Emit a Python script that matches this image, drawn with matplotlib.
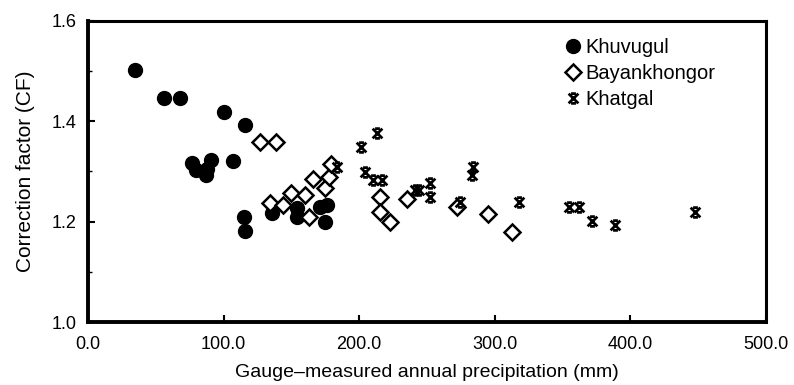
import matplotlib
matplotlib.use("Agg")
import matplotlib.pyplot as plt
from matplotlib.path import Path
from matplotlib.ticker import MultipleLocator

plt.rcParams['font.family'] = ['Liberation Sans', 'DejaVu Sans']

# Khuvugul (filled circles)
khu_x = [35, 56, 68, 100, 116, 77, 80, 88, 91, 87, 107, 115, 116, 136, 154, 154, 171, 176, 175]
khu_y = [1.503, 1.446, 1.446, 1.418, 1.392, 1.317, 1.303, 1.305, 1.323, 1.293, 1.321, 1.209, 1.181, 1.217, 1.227, 1.209, 1.229, 1.233, 1.200]

# Bayankhongor (open diamonds)
bay_x = [127, 139, 134, 144, 150, 160, 166, 175, 178, 179, 163, 215, 215, 223, 235, 272, 295, 313]
bay_y = [1.359, 1.359, 1.237, 1.233, 1.257, 1.253, 1.285, 1.267, 1.289, 1.315, 1.209, 1.249, 1.220, 1.200, 1.245, 1.229, 1.215, 1.180]

# Khatgal (asterisks)
kha_x = [184, 201, 204, 210, 213, 217, 241, 244, 252, 252, 274, 283, 284, 318, 355, 362, 372, 389, 448]
kha_y = [1.309, 1.349, 1.299, 1.283, 1.376, 1.283, 1.263, 1.263, 1.277, 1.249, 1.239, 1.293, 1.309, 1.239, 1.229, 1.229, 1.201, 1.193, 1.219]

xticks = [0, 100, 200, 300, 400, 500]
yticks = [1.0, 1.2, 1.4, 1.6]

star = Path([(-1, -1), (1, 1), (-1, 1), (1, -1), (-0.5, 1), (0.5, 1), (-0.5, -1), (0.5, -1)],
            [Path.MOVETO, Path.LINETO, Path.MOVETO, Path.LINETO,
             Path.MOVETO, Path.LINETO, Path.MOVETO, Path.LINETO])

fig = plt.figure(figsize=(7.94, 3.85), dpi=100)
ax = fig.add_axes([0.1108, 0.1636, 0.8539, 0.7819])

ax.plot(khu_x, khu_y, linestyle='none', marker='o', ms=10, color='black', label='Khuvugul')
ax.plot(bay_x, bay_y, linestyle='none', marker='D', ms=8.5, mfc='white', mec='black', mew=1.8, label='Bayankhongor')
ax.plot(kha_x, kha_y, linestyle='none', marker=star, ms=7, color='black', mew=2, label='Khatgal')

ax.set_xlim(0, 500)
ax.set_ylim(1.0, 1.6)
ax.set_xticks(xticks)
ax.set_xticklabels([f"{v:.1f}" for v in xticks])
ax.set_yticks(yticks)
ax.set_yticklabels([f"{v:.1f}" for v in yticks])
ax.yaxis.set_minor_locator(MultipleLocator(0.1))
ax.tick_params(direction='in', length=5, width=1.5, labelsize=13, pad=8)
ax.tick_params(axis='x', pad=10)
ax.tick_params(which='minor', direction='in', length=3, width=1)

for side in ['left', 'bottom']:
    ax.spines[side].set_linewidth(2.8)
for side in ['top', 'right']:
    ax.spines[side].set_linewidth(2.2)

ax.set_xlabel('Gauge\u2013measured annual precipitation (mm)', fontsize=14, labelpad=8)
ax.set_ylabel('Correction factor (CF)', fontsize=15, labelpad=12)

ax.legend(loc='upper left', bbox_to_anchor=(0.685, 0.99), frameon=False, fontsize=14.5,
          handlelength=0.6, handletextpad=0.35, labelspacing=0.35, borderpad=0.2)

fig.savefig('out.png', dpi=100)
